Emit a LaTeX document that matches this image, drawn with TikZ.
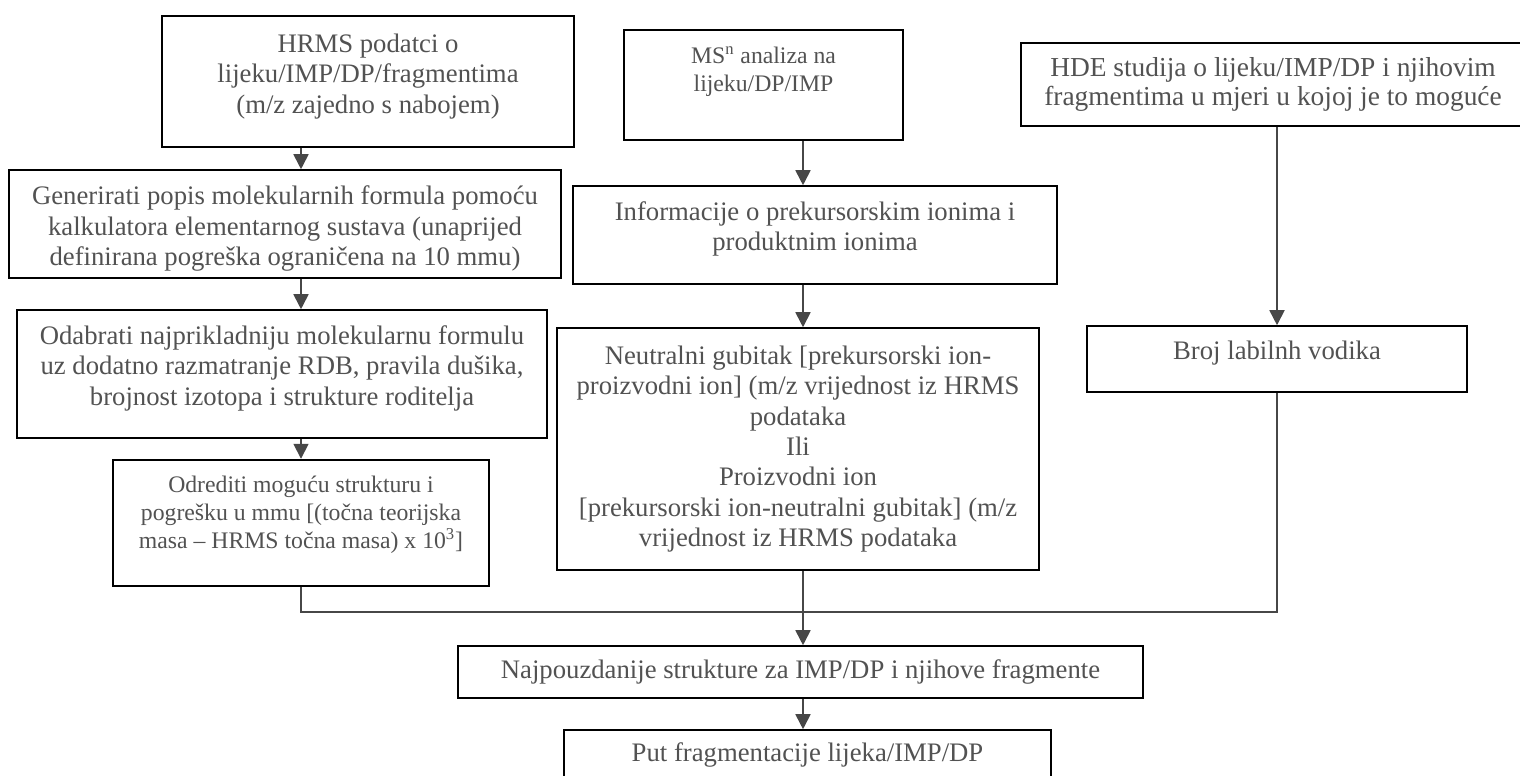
\documentclass[tikz,border=0pt]{standalone}
\usepackage{fontspec}
\setmainfont{Liberation Serif}
\usepackage{tikz}
\usetikzlibrary{arrows.meta,positioning,calc}

\newcommand{\bigtxt}{\fontsize{15.2pt}{17.3pt}\selectfont}
\newcommand{\midtxt}{\fontsize{15.6pt}{16pt}\selectfont}
\newcommand{\smalltxt}{\fontsize{13.5pt}{15.9pt}\selectfont}
\newcommand{\lowpad}[1]{\rule[-#1]{0pt}{#1}}
\newcommand{\toppad}[1]{\rule{0pt}{#1}}

\tikzset{
  box/.style={draw=black, line width=0.9pt, fill=white, text=black!68, align=center, inner sep=2pt, font=\bigtxt},
  heavy/.style={line width=1.4pt},
  link/.style={draw=black!72, line width=1pt},
  arr/.style={link, -{Triangle[length=0.3cm,width=0.3cm]}}
}

\begin{document}
\begin{tikzpicture}[x=0.02cm, y=-0.02cm]
\useasboundingbox (0,0) rectangle (1520,776);
% Left column
\node[box, heavy, minimum width=8.24cm, minimum height=2.62cm] (hrms) at (368,81.5)
  {HRMS podatci o\\ lijeku/IMP/DP/fragmentima\\ (m/z zajedno s nabojem)\lowpad{9pt}};
\node[box, minimum width=11.04cm, minimum height=2.16cm] (genform) at (285,224)
  {\toppad{16pt}Generirati popis molekularnih formula pomoću\\ kalkulatora elementarnog sustava (unaprijed\\ definirana pogreška ograničena na 10 mmu)};
\node[box, minimum width=10.6cm, minimum height=2.56cm] (selform) at (282,374)
  {Odabrati najprikladniju molekularnu formulu\\ uz dodatno razmatranje RDB, pravila dušika,\\ brojnost izotopa i strukture roditelja\lowpad{10pt}};
\node[box, heavy, font=\smalltxt, minimum width=7.52cm, minimum height=2.52cm] (detstruct) at (301,523)
  {Odrediti moguću strukturu i\\ pogrešku u mmu [(točna teorijska\\ masa – HRMS točna masa) x 10\textsuperscript{3}]\lowpad{12.5pt}};
% Middle column
\node[box, heavy, font=\smalltxt, minimum width=5.58cm, minimum height=2.2cm] (msn) at (763.5,85)
  {MS\textsuperscript{n} analiza na\\ lijeku/DP/IMP\lowpad{18pt}};
\node[box, minimum width=9.68cm, minimum height=1.96cm] (ioninfo) at (815,235)
  {Informacije o prekursorskim ionima i\\ produktnim ionima\lowpad{10pt}};
\node[box, minimum width=9.64cm, minimum height=4.84cm] (neutral) at (798,449)
  {Neutralni gubitak [prekursorski ion-\\ proizvodni ion] (m/z vrijednost iz HRMS\\ podataka\\ Ili\\ Proizvodni ion\\ {[}prekursorski ion-neutralni gubitak] (m/z\\ vrijednost iz HRMS podataka};
% Right column
\node[box, font=\midtxt, minimum width=10.08cm, minimum height=1.66cm] (hde) at (1273,84.5)
  {HDE studija o lijeku/IMP/DP i njihovim\\ fragmentima u mjeri u kojoj je to moguće};
\node[box, minimum width=7.6cm, minimum height=1.32cm] (labile) at (1277,359)
  {Broj labilnh vodika\lowpad{10pt}};
% Bottom
\node[box, minimum width=13.7cm, minimum height=1.04cm] (best) at (800.5,672)
  {Najpouzdanije strukture za IMP/DP i njihove fragmente};
\node[box, minimum width=9.74cm, minimum height=1.0cm] (route) at (807.5,755)
  {Put fragmentacije lijeka/IMP/DP};
\coordinate (junct) at (803,612);
% Arrows
\draw[arr] (hrms.south -| detstruct.north) -- (genform.north -| detstruct.north);
\draw[arr] (genform.south -| detstruct.north) -- (selform.north -| detstruct.north);
\draw[arr] (selform.south -| detstruct.north) -- (detstruct.north);
\draw[arr] (msn.south -| junct) -- (ioninfo.north -| junct);
\draw[arr] (ioninfo.south -| junct) -- (neutral.north -| junct);
\draw[arr] (hde.south -| labile.north) -- (labile.north);
\draw[link] (detstruct.south) |- (junct) -| (labile.south);
\draw[arr] (neutral.south -| junct) -- (best.north -| junct);
\draw[arr] (best.south -| junct) -- (route.north -| junct);
\end{tikzpicture}
\end{document}
